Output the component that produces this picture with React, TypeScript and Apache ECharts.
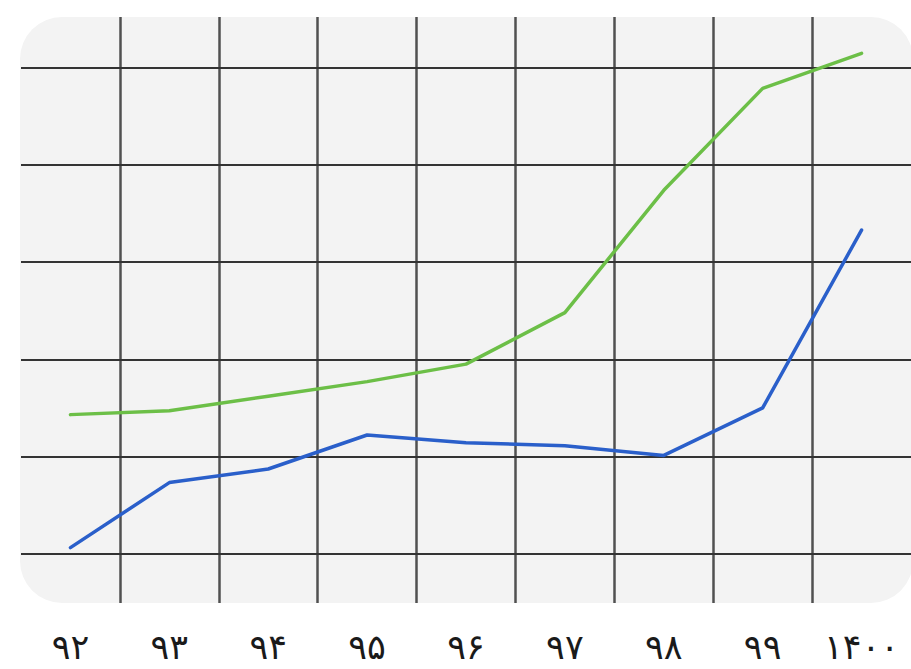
import React, { useEffect, useRef } from 'react';
import * as echarts from 'echarts';

const categories = ['۹۲', '۹۳', '۹۴', '۹۵', '۹۶', '۹۷', '۹۸', '۹۹', '۱۴۰۰'];
const greenValues = [1.43, 1.47, 1.62, 1.77, 1.95, 2.48, 3.74, 4.79, 5.15];
const blueValues = [0.06, 0.73, 0.87, 1.22, 1.14, 1.11, 1.01, 1.5, 3.33];
const gridLineValues = [0, 1, 2, 3, 4, 5];

export default function App() {
  const ref = useRef<HTMLDivElement>(null);
  useEffect(() => {
    const chart = echarts.init(ref.current!, null, { renderer: 'svg' });
    chart.setOption({
      animation: false,
      graphic: [
        {
          type: 'rect',
          z: -10,
          silent: true,
          shape: { x: 20, y: 17, width: 893, height: 586, r: 42 },
          style: { fill: '#f3f3f3' },
        },
      ],
      grid: { left: 21, top: 17, width: 892, height: 586 },
      xAxis: {
        type: 'category',
        data: categories,
        boundaryGap: true,
        axisLine: { show: false },
        axisTick: { show: false },
        splitLine: {
          show: true,
          interval: 0,
          showMinLine: false,
          showMaxLine: false,
          lineStyle: { color: '#505050', width: 2.5 },
        },
        axisLabel: {
          fontSize: 35,
          color: '#1a1a1a',
          margin: 26,
          fontFamily: 'DejaVu Sans',
        },
      },
      yAxis: {
        type: 'value',
        min: -0.51,
        max: 5.525,
        axisLine: { show: false },
        axisTick: { show: false },
        axisLabel: { show: false },
        splitLine: { show: false },
      },
      series: [
        {
          type: 'line',
          data: greenValues,
          symbol: 'none',
          z: 3,
          lineStyle: { color: '#6cbf47', width: 3.5, cap: 'round', join: 'round' },
        },
        {
          type: 'line',
          data: blueValues,
          symbol: 'none',
          z: 3,
          lineStyle: { color: '#2a5fca', width: 3.5, cap: 'round', join: 'round' },
          markLine: {
            silent: true,
            symbol: 'none',
            z: 1,
            label: { show: false },
            emphasis: { disabled: true },
            lineStyle: { color: '#333333', width: 2, type: 'solid' },
            data: gridLineValues.map((v) => ({ yAxis: v })),
          },
        },
      ],
    });
    return () => chart.dispose();
  }, []);
  return (
    <div
      ref={ref}
      style={{ position: 'absolute', left: 0, top: 0, width: 911, height: 669 }}
    />
  );
}
